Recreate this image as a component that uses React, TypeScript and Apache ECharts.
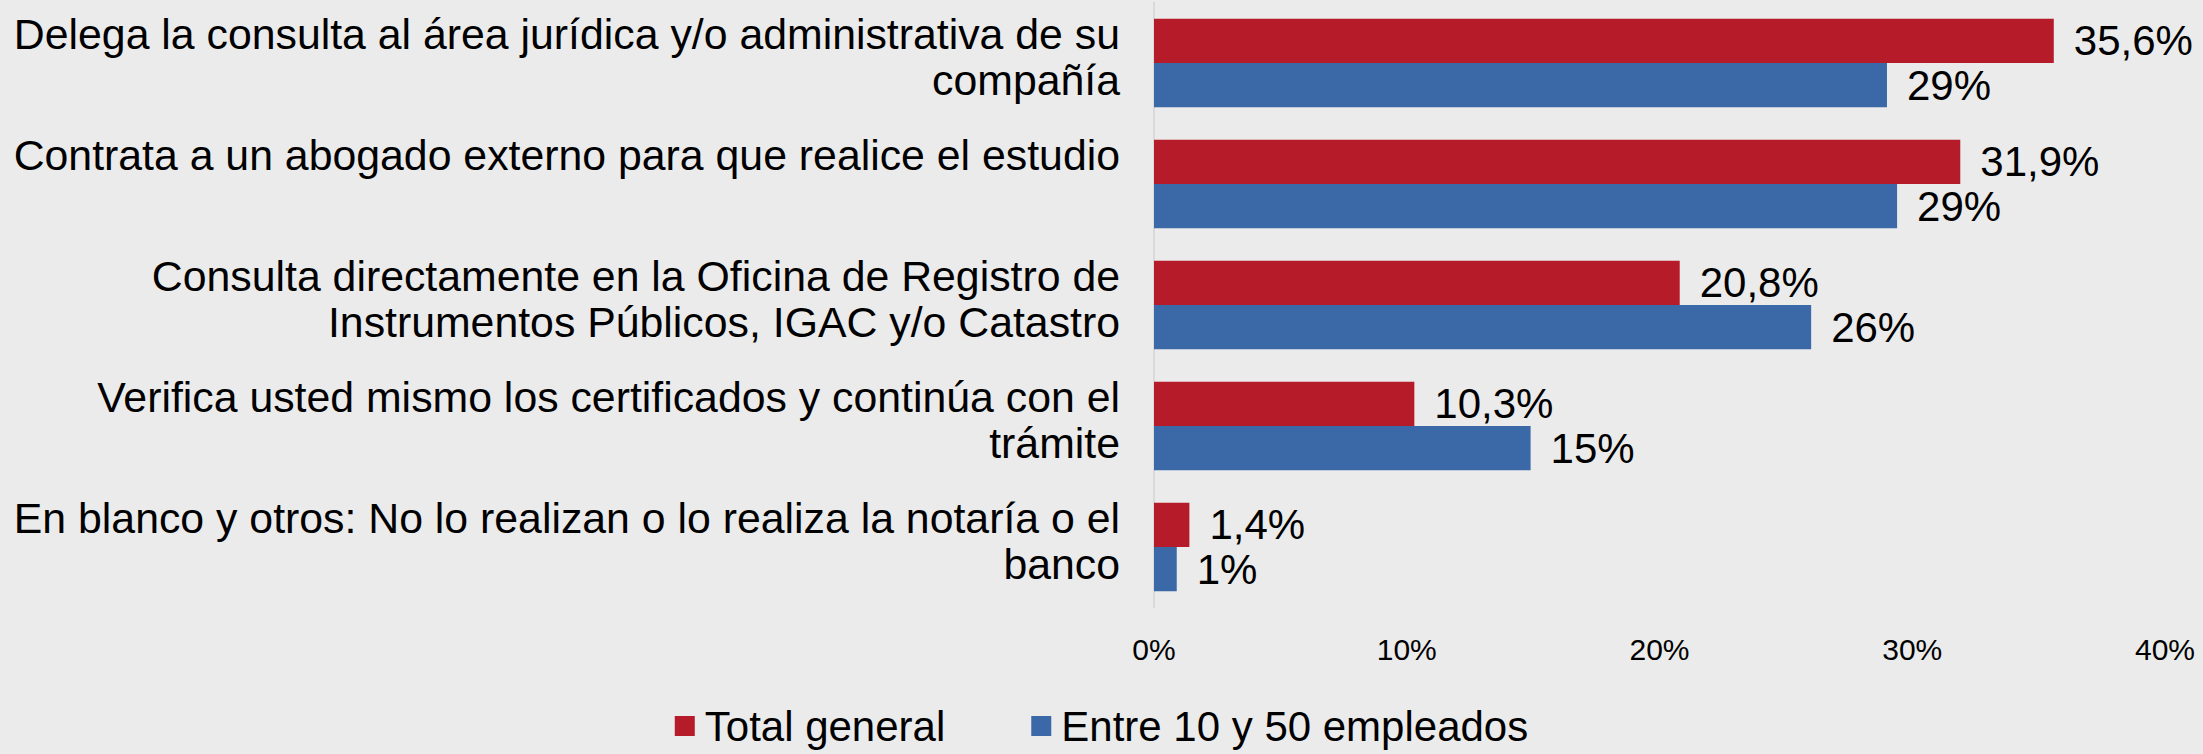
import React, { useEffect, useRef } from "react";
import * as echarts from "echarts";

const categories = [
  "Delega la consulta al área jurídica y/o administrativa de su\ncompañía",
  "Contrata a un abogado externo para que realice el estudio\n",
  "Consulta directamente en la Oficina de Registro de\nInstrumentos Públicos, IGAC y/o Catastro",
  "Verifica usted mismo los certificados y continúa con el\ntrámite",
  "En blanco y otros: No lo realizan o lo realiza la notaría o el\nbanco",
];
const seriesNames = ["Total general", "Entre 10 y 50 empleados"];
const totalGeneral = [35.6, 31.9, 20.8, 10.3, 1.4];
const entre10y50 = [29.0, 29.4, 26.0, 14.9, 0.9];
const xTicks = { min: 0, max: 40, interval: 10 };

const RED = "#B61B2A";
const BLUE = "#3B69A8";
const FONT = "'Liberation Sans', Arial, sans-serif";

export default function App() {
  const ref = useRef<HTMLDivElement>(null);
  useEffect(() => {
    document.body.style.margin = "0";
    const chart = echarts.init(ref.current!, null, { renderer: "svg" });
    chart.setOption({
      animation: false,
      backgroundColor: "#ebebeb",
      textStyle: { fontFamily: FONT },
      grid: { left: 1154, right: 38, top: 2.5, bottom: 146.5, containLabel: false },
      legend: {
        bottom: 2,
        left: "center",
        itemWidth: 20,
        itemHeight: 20,
        itemGap: 86,
        icon: "rect",
        textStyle: { fontSize: 42, color: "#000", fontFamily: FONT, padding: [0, 0, 0, 5] },
        data: seriesNames,
      },
      xAxis: {
        type: "value",
        min: xTicks.min,
        max: xTicks.max,
        interval: xTicks.interval,
        axisLine: { show: false },
        axisTick: { show: false },
        splitLine: { show: false },
        axisLabel: {
          formatter: "{value}%",
          fontSize: 30,
          color: "#000",
          margin: 27,
          fontFamily: FONT,
        },
      },
      yAxis: {
        type: "category",
        inverse: true,
        data: categories,
        axisTick: { show: false },
        axisLine: { show: true, lineStyle: { color: "#d4d4d4", width: 1.5 } },
        axisLabel: {
          fontSize: 42.8,
          lineHeight: 46,
          color: "#000",
          margin: 34,
          fontFamily: FONT,
          verticalAlign: "bottom",
          padding: [0, 0, -40, 0],
        },
      },
      series: [
        {
          name: seriesNames[0],
          type: "bar",
          data: totalGeneral,
          itemStyle: { color: RED },
          barGap: "0%",
          barCategoryGap: "27%",
          label: {
            show: true,
            position: "right",
            distance: 20,
            fontSize: 42,
            color: "#000",
            fontFamily: FONT,
            formatter: (p: any) => p.value.toFixed(1).replace(".", ",") + "%",
          },
        },
        {
          name: seriesNames[1],
          type: "bar",
          data: entre10y50,
          itemStyle: { color: BLUE },
          barGap: "0%",
          barCategoryGap: "27%",
          label: {
            show: true,
            position: "right",
            distance: 20,
            fontSize: 42,
            color: "#000",
            fontFamily: FONT,
            formatter: (p: any) => Math.round(p.value) + "%",
          },
        },
      ],
    });
    return () => chart.dispose();
  }, []);
  return <div ref={ref} style={{ width: 2203, height: 754 }} />;
}
